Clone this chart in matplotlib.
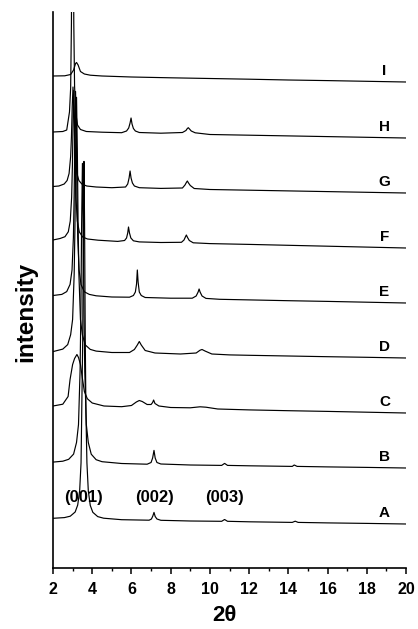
import numpy as np
import matplotlib
matplotlib.use("Agg")
import matplotlib.pyplot as plt
from matplotlib.ticker import MultipleLocator

plt.rcParams['font.family'] = ['Liberation Sans', 'DejaVu Sans']

# ---- data (2theta, intensity in arbitrary units) ----
labels = ['A', 'B', 'C', 'D', 'E', 'F', 'G', 'H', 'I']

A_x = [2.0, 2.58, 2.88, 3.13, 3.26, 3.36, 3.43, 3.515, 3.55, 3.58, 3.61, 3.645, 3.68, 3.73, 3.8, 3.9,
       4.03, 4.28, 4.58, 5.5, 6.9, 7.02, 7.09, 7.15, 7.21, 7.3, 7.5, 9.0, 10.6, 10.75, 10.9, 12.0,
       14.2, 14.35, 14.5, 16.0, 18.0, 20.0]
A_y = [5.7, 6.4, 7.8, 12, 19, 33.4, 61.2, 184, 300, 362.6, 300, 184, 110.5, 61.1, 33.2, 18.6,
       11.7, 7.4, 5.8, 4.3, 3.8, 5, 8, 11.6, 7.5, 5, 3.7, 3, 2.7, 4.5, 2.7, 2.2,
       1.6, 2.8, 1.6, 1.1, 0.6, 0]

B_x = [2.0, 2.5, 2.8, 3.05, 3.2, 3.3, 3.38, 3.42, 3.46, 3.5, 3.54, 3.58, 3.62, 3.7, 3.8, 3.95,
       4.2, 4.5, 5.5, 6.8, 7.0, 7.08, 7.15, 7.21, 7.3, 7.5, 9.0, 10.6, 10.75, 10.9, 12.0, 14.2,
       14.3, 14.45, 16.0, 18.0, 20.0]
B_y = [5.9, 6.8, 8.7, 13.9, 25.6, 43.4, 96.6, 154.6, 244.6, 304.6, 244.6, 154.6, 96.6, 43.4, 25.5, 13.8,
       8.3, 6.3, 4.5, 3.8, 5.5, 10, 17.6, 10, 5.5, 4, 3, 2.6, 4.6, 2.6, 2.2, 1.6,
       3, 1.6, 1.1, 0.6, 0]

C_x = [2.0, 2.5, 2.77, 2.87, 3.0, 3.1, 3.22, 3.3, 3.4, 3.5, 3.6, 3.75, 4.0, 4.6, 5.5, 6.0,
       6.25, 6.4, 6.55, 6.8, 7.0, 7.08, 7.13, 7.2, 7.4, 8.0, 9.0, 9.5, 9.8, 10.4, 12.0, 14.0,
       16.0, 18.0, 20.0]
C_y = [7, 8.8, 16.5, 33.5, 48.5, 54.5, 58.5, 55.5, 48.5, 34.5, 21.5, 14.3, 10, 7, 6.3, 7.5,
       11, 12.5, 11.5, 8.5, 8.5, 10.5, 13, 9.5, 7, 5.5, 5.2, 6.2, 5.8, 4, 3.1, 2.3,
       1.6, 0.8, 0]

D_x = [2.0, 2.5, 2.75, 2.9, 3.0, 3.08, 3.12, 3.16, 3.2, 3.24, 3.28, 3.32, 3.4, 3.5, 3.65, 3.9,
       4.2, 5.0, 5.9, 6.15, 6.3, 6.4, 6.5, 6.7, 7.2, 8.5, 9.3, 9.5, 9.6, 9.75, 10.1, 11.0,
       12.0, 14.0, 16.0, 18.0, 20.0]
D_y = [6.4, 8.9, 13.4, 23.3, 38.6, 84, 133, 209.6, 260.7, 209.6, 133, 84, 38.5, 23, 13, 8.6,
       6.9, 5.5, 5.5, 8.5, 13, 16.5, 13, 7.5, 5, 4, 5, 7.8, 8.5, 7, 4, 3.1,
       2.7, 2, 1.3, 0.7, 0]

E_x = [2.0, 2.45, 2.7, 2.87, 2.97, 3.04, 3.08, 3.115, 3.15, 3.185, 3.22, 3.26, 3.33, 3.43, 3.6, 3.85,
       4.2, 5.0, 5.9, 6.1, 6.2, 6.26, 6.3, 6.34, 6.4, 6.5, 6.7, 8.0, 9.1, 9.3, 9.4, 9.45,
       9.5, 9.6, 9.8, 10.5, 12.0, 14.0, 16.0, 18.0, 20.0]
E_y = [7.5, 8.6, 11.4, 18.6, 33, 65.6, 109, 170.6, 211.6, 170.6, 109, 65.6, 33, 18.4, 11.2, 8.6,
       7.2, 6, 5.8, 7.5, 11, 19, 33, 21, 11, 7.5, 5.5, 4.8, 4.8, 7, 11, 14,
       11, 7, 4.6, 3.7, 3.1, 2.3, 1.6, 0.8, 0]

F_x = [2.0, 2.36, 2.61, 2.78, 2.88, 2.95, 2.99, 3.025, 3.06, 3.095, 3.13, 3.17, 3.24, 3.34, 3.51, 3.76,
       4.3, 5.3, 5.65, 5.75, 5.81, 5.85, 5.9, 5.97, 6.1, 6.4, 7.5, 8.55, 8.68, 8.75, 8.8, 8.86,
       8.95, 9.15, 10.0, 12.0, 14.0, 16.0, 18.0, 20.0]
F_y = [8, 9.5, 11.3, 16.2, 27, 50.5, 82.5, 127.6, 157.6, 127.6, 82.5, 50.5, 27, 16.2, 11, 9,
       7.8, 6.6, 7.5, 10, 15, 21, 15, 10, 7.2, 6.1, 5.5, 5.7, 8, 11, 13, 10.5,
       7.5, 5.2, 4.4, 3.6, 2.7, 1.8, 0.9, 0]

G_x = [2.0, 2.3, 2.57, 2.72, 2.82, 2.9, 2.94, 2.98, 3.02, 3.06, 3.1, 3.14, 3.22, 3.32, 3.47, 3.72,
       4.2, 5.0, 5.7, 5.81, 5.88, 5.93, 5.98, 6.05, 6.15, 6.4, 7.5, 8.6, 8.73, 8.8, 8.85, 8.91,
       9.0, 9.2, 10.0, 12.0, 14.0, 16.0, 18.0, 20.0]
G_y = [6.5, 7, 9, 12.5, 19.5, 36.5, 56, 86, 106, 86, 56, 36.5, 19.5, 12.5, 9, 7,
       6, 5.3, 6, 9, 15, 22, 15, 10, 7, 5.3, 4.6, 5, 8, 10.5, 12, 10,
       7.5, 4.5, 3.5, 2.8, 2.1, 1.4, 0.7, 0]

H_x = [2.0, 2.5, 2.7, 2.84, 2.9, 2.94, 2.97, 3.0, 3.03, 3.06, 3.1, 3.16, 3.25, 3.4, 3.7, 4.5,
       5.5, 5.75, 5.86, 5.93, 5.98, 6.03, 6.1, 6.2, 6.4, 7.5, 8.6, 8.78, 8.85, 8.9, 8.96, 9.05,
       9.25, 10.0, 12.0, 14.0, 16.0, 18.0, 20.0]
H_y = [6, 6.5, 8, 26, 50, 115, 280, 556, 280, 115, 52, 25, 13, 8.5, 6.5, 5.8,
       5.3, 7, 10, 15, 20, 14, 9.5, 7, 5.5, 4.8, 5.5, 7.5, 9.5, 10.3, 9, 7,
       5.2, 3.5, 2.8, 2.1, 1.4, 0.7, 0]

I_x = [2.0, 2.6, 2.9, 3.05, 3.15, 3.2, 3.28, 3.4, 3.6, 3.9, 4.5, 6.0, 8.0, 10.0, 12.0, 14.0,
       16.0, 18.0, 20.0]
I_y = [6, 6.2, 7.5, 12, 18.5, 19.5, 17, 10.5, 8, 6.8, 6, 5, 4.2, 3.5, 2.8, 2,
       1.4, 0.7, 0]

series_x = [A_x, B_x, C_x, D_x, E_x, F_x, G_x, H_x, I_x]
series_y = [A_y, B_y, C_y, D_y, E_y, F_y, G_y, H_y, I_y]

hkl_labels = ['(001)', '(002)', '(003)']
hkl_pos = [3.55, 7.17, 10.77]

x_ticks = [2, 4, 6, 8, 10, 12, 14, 16, 18, 20]

# ---- layout / style ----
offsets = [43.5, 99.5, 154.5, 209.5, 264.5, 319.5, 374.5, 429.5, 485.5]

W, H = 418, 629
fig = plt.figure(figsize=(W / 100, H / 100), dpi=100)
ax = fig.add_axes([53 / W, 1 - 567.5 / H, 353 / W, 555.5 / H])

for xs, ys, off in zip(series_x, series_y, offsets):
    ax.plot(xs, np.asarray(ys) + off, color='black', lw=0.85, solid_joinstyle='round')

for lab, off in zip(labels, offsets):
    ax.text(18.9, off + 11, lab, ha='center', va='center', fontsize=11,
            fontweight='bold')

for t, p in zip(hkl_labels, hkl_pos):
    ax.text(p, 70, t, ha='center', va='center', fontsize=12, fontweight='bold')

ax.set_xlim(2, 20)
ax.set_ylim(0, 555.5)
ax.set_xticks(x_ticks)
ax.xaxis.set_minor_locator(MultipleLocator(1))
ax.set_yticks([])
for s in ['top', 'right']:
    ax.spines[s].set_visible(False)
for s in ['left', 'bottom']:
    ax.spines[s].set_linewidth(1.2)
ax.tick_params(axis='x', which='major', direction='out', length=4.5, width=1.1, pad=6,
               labelsize=11.5)
ax.tick_params(axis='x', which='minor', direction='out', length=2.3, width=1.0)
for lbl in ax.get_xticklabels():
    lbl.set_fontweight('bold')

fig.text(224 / W, 1 - 615.5 / H, '2θ', ha='center', va='center', fontsize=16,
         fontweight='bold')
fig.text(26 / W, 1 - 312 / H, 'intensity', ha='center', va='center', rotation=90,
         fontsize=17.5, fontweight='bold')

fig.savefig('out.png', dpi=100)
